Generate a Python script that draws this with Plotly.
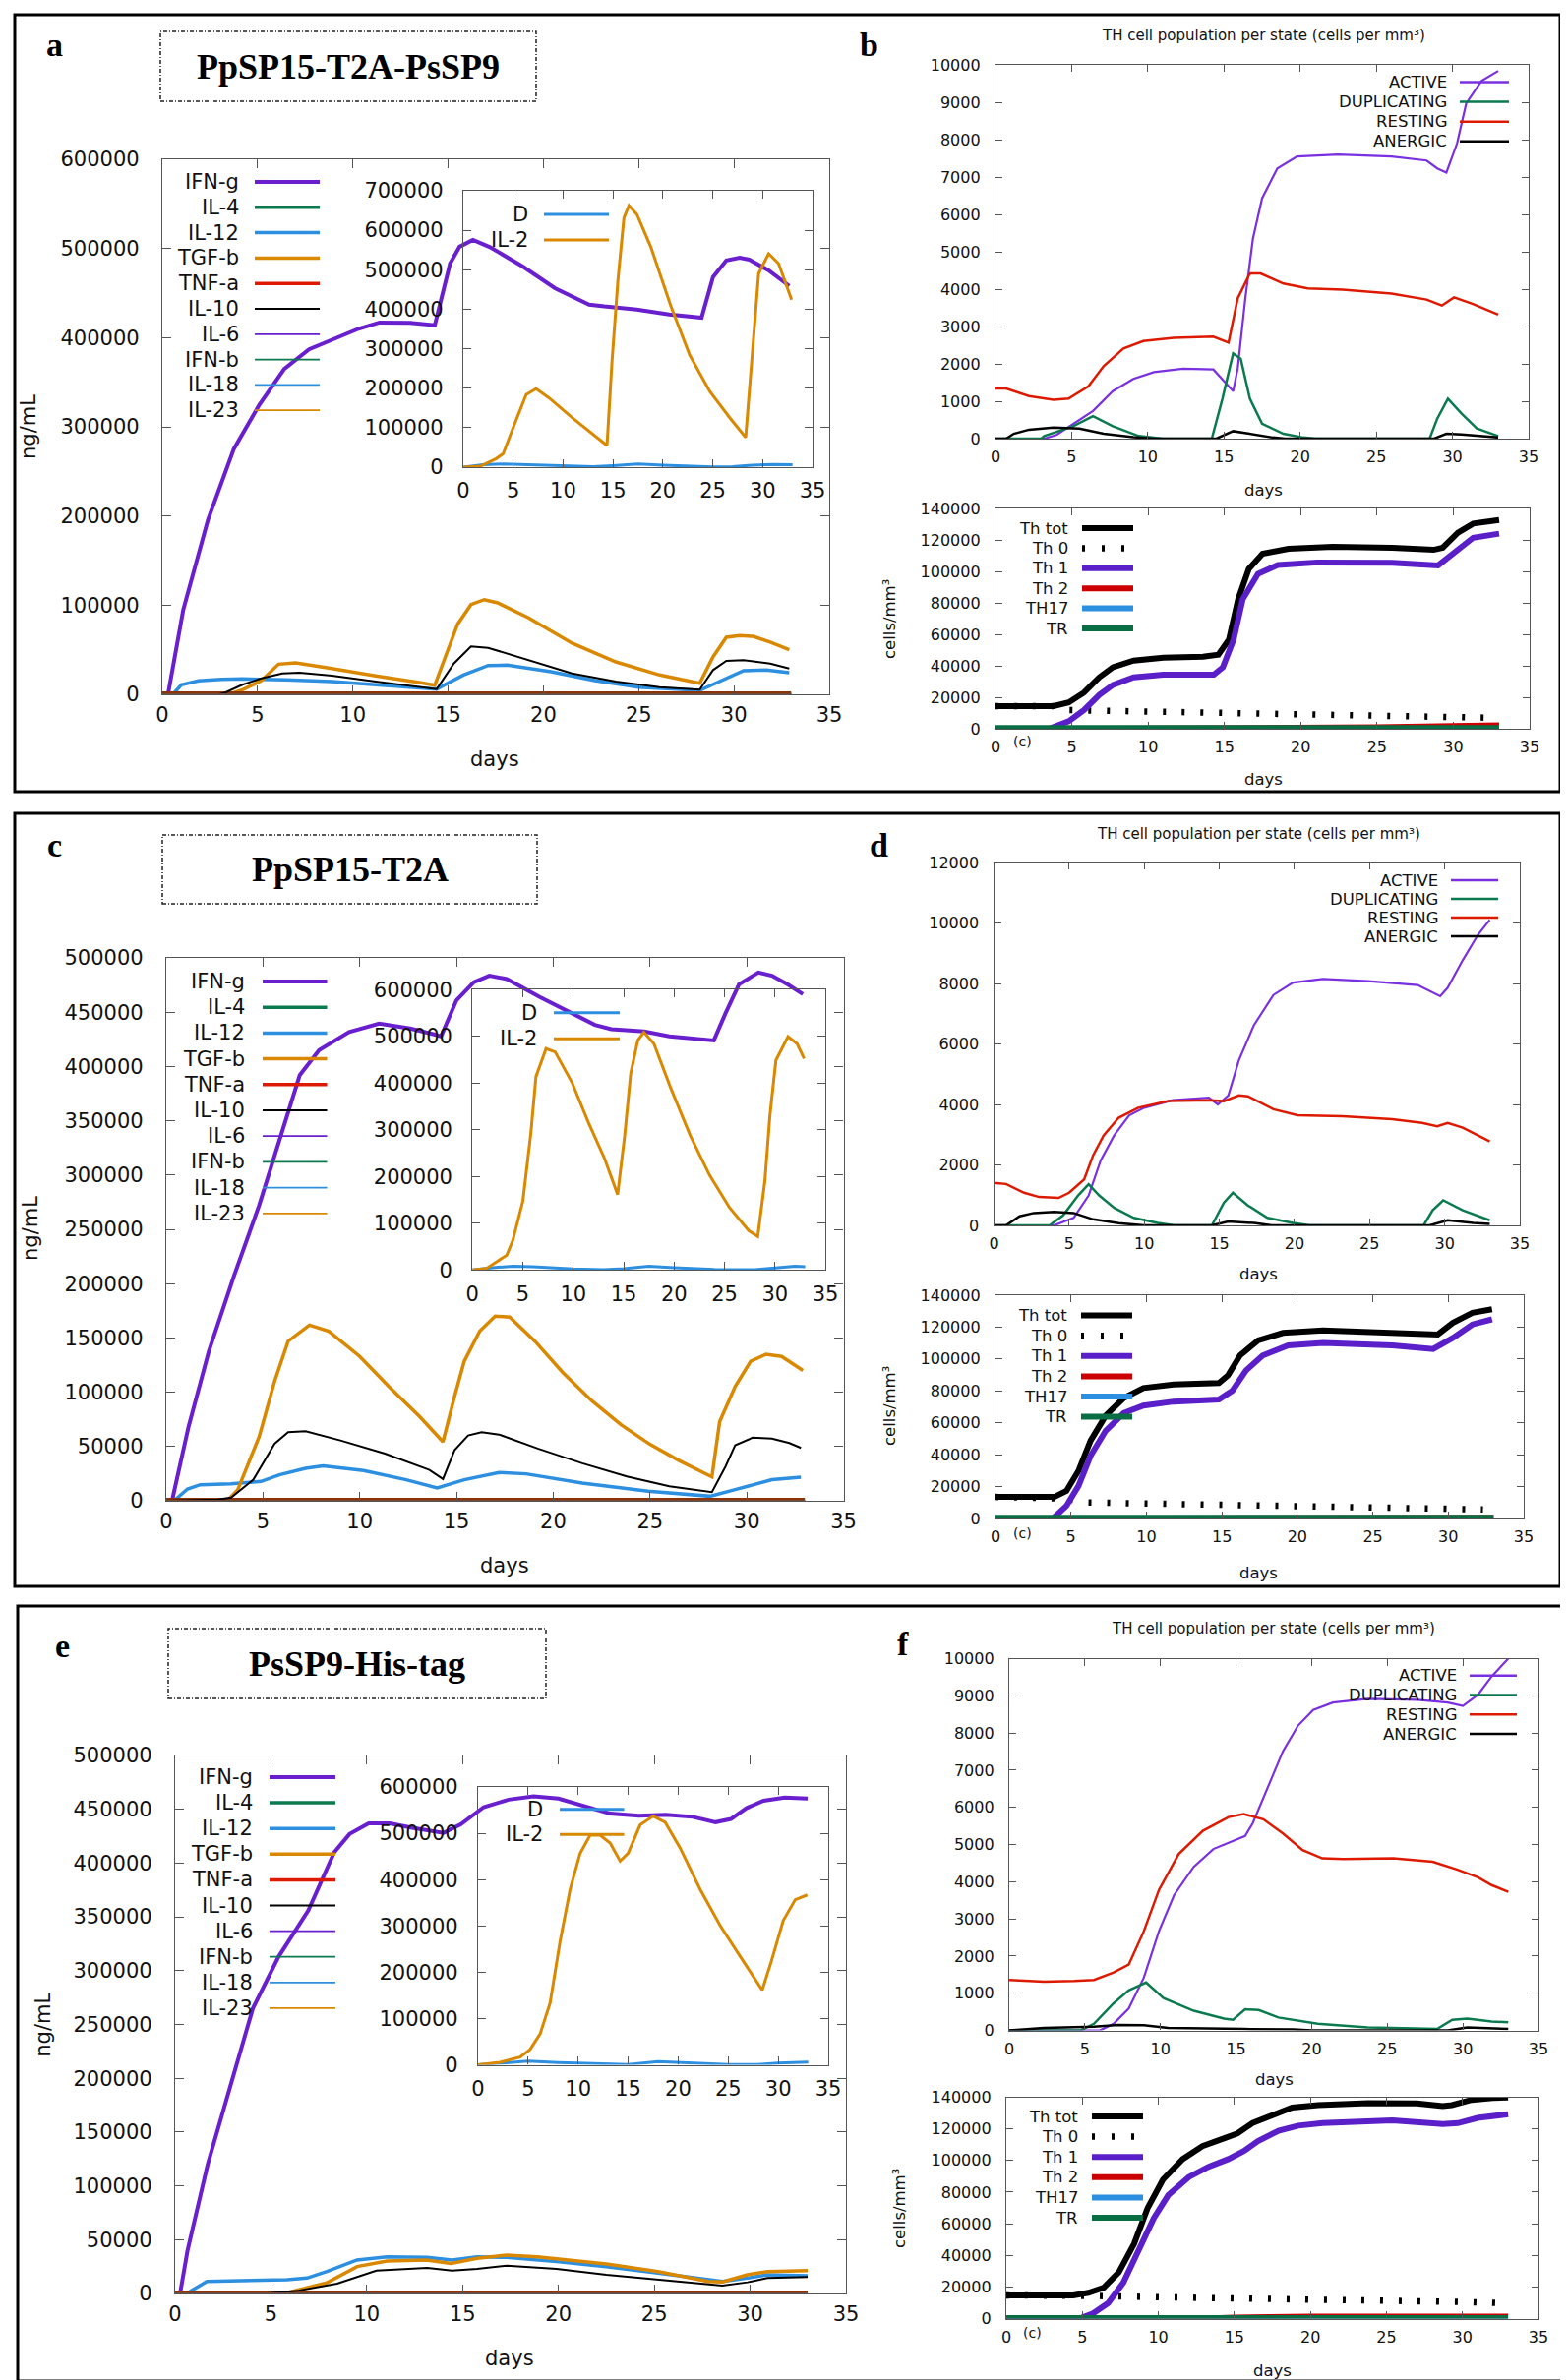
import plotly.graph_objects as go

# ============================ DATA ============================
days_span = [0, 33]
zero_level = [0, 0]

cytokine_names = ["IFN-g", "IL-4", "IL-12", "TGF-b", "TNF-a", "IL-10", "IL-6", "IFN-b", "IL-18", "IL-23"]
inset_names = ["D", "IL-2"]
state_names = ["ACTIVE", "DUPLICATING", "RESTING", "ANERGIC"]
th_names = ["Th tot", "Th 0", "Th 1", "Th 2", "TH17", "TR"]
panel_titles = ["PpSP15-T2A-PsSP9", "PpSP15-T2A", "PsSP9-His-tag"]
state_title = "TH cell population per state (cells per mm³)"

# ---- panel a (PpSP15-T2A-PsSP9) cytokines ----
a_ifng_x = [0.3, 1.1, 2.4, 3.75, 5.1, 6.4, 7.7, 9.0, 10.3, 11.4, 13.0, 14.3, 14.6, 15.1, 15.6, 16.3, 17.2, 18.9, 20.6, 22.4, 23.2, 24.9, 26.6, 28.3, 28.9, 29.6, 30.3, 30.8, 31.8, 32.9]
a_ifng_y = [0, 95000, 196000, 275000, 325000, 365000, 387000, 398000, 410000, 417000, 416500, 414000, 439000, 483000, 502000, 509600, 501500, 480000, 455500, 437000, 435000, 431600, 426000, 422400, 468000, 486700, 489700, 487500, 475700, 458000]
a_tgfb_x = [0, 3.5, 4.2, 5.2, 6.1, 7.0, 8.9, 11.2, 13.5, 14.3, 14.85, 15.5, 16.2, 16.9, 17.6, 19.2, 21.5, 23.8, 26.1, 28.2, 28.9, 29.6, 30.3, 31.0, 31.9, 32.9]
a_tgfb_y = [0, 0, 5000, 15400, 33800, 35300, 29000, 20600, 13200, 10300, 41900, 78700, 100700, 106200, 102600, 86000, 57400, 36400, 21700, 12500, 41900, 64000, 65800, 65000, 58500, 50000]
a_il10_x = [0, 3.0, 3.3, 4.2, 5.2, 6.3, 7.2, 8.9, 11.2, 14.4, 15.3, 16.2, 17.1, 19.2, 21.5, 23.8, 26.1, 28.2, 28.9, 29.6, 30.5, 31.9, 32.9]
a_il10_y = [0, 0, 2000, 10700, 18000, 23500, 24300, 21000, 14300, 5900, 34500, 53700, 52200, 38300, 23500, 14300, 8100, 5200, 27200, 37500, 38300, 34500, 29000]
a_il12_x = [0, 0.56, 1.0, 1.9, 3.1, 4.2, 6.5, 8.9, 11.2, 14.4, 15.8, 17.1, 18.1, 20.4, 22.7, 25.0, 28.2, 29.4, 30.5, 31.7, 32.9]
a_il12_y = [0, 0, 10700, 15100, 16900, 17300, 16200, 14300, 10700, 5900, 21700, 32300, 32800, 25400, 15400, 8100, 4400, 16200, 26500, 27200, 24300]
a_il2_x = [0, 1.7, 3.3, 4.0, 5.0, 6.3, 7.3, 8.6, 10.9, 12.9, 14.4, 14.9, 15.5, 16.1, 16.6, 17.4, 18.8, 20.8, 22.7, 24.7, 26.7, 28.3, 29.0, 29.6, 30.6, 31.6, 32.9]
a_il2_y = [0, 2500, 21600, 34000, 100400, 183600, 198500, 175100, 125300, 83900, 54800, 266500, 474000, 631900, 662600, 640200, 557200, 407800, 283300, 191800, 125300, 75500, 308200, 490700, 540500, 515600, 424200]
a_d_x = [0, 2, 4, 7, 10, 13, 15, 17.5, 20, 23, 25, 27, 29, 31, 33]
a_d_y = [0, 6000, 8000, 6000, 3000, 1500, 4000, 8000, 5000, 2000, 500, 1000, 5000, 7000, 6000]

# ---- panel b states ----
b_active_x = [0, 3.2, 4.0, 5.1, 6.4, 7.7, 9.05, 10.4, 12.3, 14.3, 15.6, 15.9, 16.4, 16.9, 17.5, 18.5, 19.8, 22.5, 26.0, 28.3, 29.0, 29.6, 30.3, 30.9, 31.9, 33.0]
b_active_y = [0, 0, 100, 400, 740, 1270, 1600, 1780, 1870, 1850, 1270, 1870, 3750, 5350, 6430, 7230, 7550, 7600, 7550, 7440, 7230, 7120, 7900, 8970, 9570, 9840]
b_dup_x = [0, 3.0, 3.2, 5.1, 6.4, 7.7, 9.4, 10.4, 11.0, 14.2, 14.9, 15.6, 16.1, 16.7, 17.5, 18.9, 20.2, 21.0, 28.5, 29.0, 29.7, 30.6, 31.6, 33.0]
b_dup_y = [0, 0, 70, 330, 600, 330, 70, 30, 0, 0, 1070, 2280, 2140, 1070, 400, 130, 30, 0, 0, 535, 1070, 670, 270, 70]
b_rest_x = [0, 0.7, 2.2, 3.8, 4.8, 6.1, 7.1, 8.4, 9.7, 11.7, 14.3, 15.3, 15.9, 16.7, 17.4, 18.9, 20.5, 22.8, 26.0, 28.3, 29.3, 30.1, 31.3, 33.0]
b_rest_y = [1340, 1340, 1140, 1040, 1070, 1400, 1940, 2410, 2610, 2700, 2730, 2570, 3750, 4420, 4420, 4150, 4020, 3990, 3880, 3720, 3560, 3780, 3610, 3320]
b_anerg_x = [0, 0.7, 1.2, 2.2, 3.8, 5.5, 7.1, 9.05, 10.4, 14.5, 15.6, 16.6, 18.2, 19, 28.8, 29.6, 30.6, 33.0]
b_anerg_y = [0, 0, 130, 240, 295, 270, 130, 40, 0, 0, 200, 130, 30, 0, 0, 130, 110, 30]
# ---- panel b Th populations ----
b_thtot_x = [0, 3.8, 4.8, 5.8, 6.8, 7.7, 9.05, 11.0, 13.6, 14.6, 15.3, 15.9, 16.6, 17.5, 19.2, 22.1, 26.0, 28.7, 29.3, 30.3, 31.3, 33.0]
b_thtot_y = [14400, 14400, 16700, 23000, 32700, 39100, 43300, 45200, 45800, 47100, 56700, 82300, 101600, 111200, 114400, 115700, 115000, 113700, 115000, 124600, 130400, 132600]
b_th0_x = [0, 3.8, 4.5, 15, 25, 32.5]
b_th0_y = [14400, 14400, 11900, 10200, 8600, 7000]
b_th1_x = [0, 3.5, 4.8, 5.8, 6.8, 7.7, 9.05, 11.0, 14.3, 14.9, 15.6, 16.2, 17.2, 18.5, 21.1, 26.0, 29.0, 30.3, 31.3, 33.0]
b_th1_y = [0, 0, 4800, 11900, 21500, 27900, 32700, 34300, 34300, 39100, 56700, 82300, 98400, 104100, 105700, 105400, 103800, 114400, 121400, 124000]
b_th2_x = [0, 20, 25, 30, 33]
b_th2_y = [0, 800, 1200, 2000, 2500]
b_tr_y = [800, 800]

# ---- panel c (PpSP15-T2A) cytokines ----
c_ifng_x = [0.3, 1.15, 2.2, 3.5, 4.8, 6.1, 6.9, 7.9, 9.45, 11.0, 12.6, 13.9, 14.2, 15.0, 15.9, 16.7, 17.6, 19.3, 21.0, 22.15, 23.0, 24.7, 26.0, 28.3, 28.9, 29.6, 30.6, 31.3, 32.1, 32.9]
c_ifng_y = [0, 68000, 137700, 207000, 272000, 346000, 392000, 415000, 431700, 439500, 435000, 429300, 427700, 461000, 477600, 483600, 480600, 464000, 448900, 438300, 434300, 432200, 427700, 424000, 448900, 475700, 486600, 483600, 475700, 466600]
c_tgfb_x = [0, 3.2, 3.7, 4.8, 5.6, 6.3, 7.4, 8.4, 10.0, 11.5, 13.1, 14.3, 14.9, 15.4, 16.2, 17.0, 17.75, 19.05, 20.5, 22.0, 23.5, 25.0, 26.5, 28.2, 28.6, 29.4, 30.2, 31.0, 31.8, 32.9]
c_tgfb_y = [0, 1000, 10300, 59000, 110000, 147000, 161800, 156200, 133000, 105300, 77500, 54300, 96000, 128500, 156200, 170100, 169200, 147000, 118000, 92000, 70000, 52000, 37000, 22000, 72900, 105300, 128500, 135000, 133000, 120000]
c_il10_x = [0, 2.67, 3.35, 4.5, 5.6, 6.3, 7.2, 9.0, 11.3, 13.6, 14.3, 14.9, 15.6, 16.3, 17.2, 19.2, 21.5, 23.8, 26.0, 28.2, 28.9, 29.4, 30.3, 31.3, 32.2, 32.8]
c_il10_y = [0, 1200, 3000, 19400, 52600, 63200, 64100, 55600, 43500, 28400, 20000, 46600, 60200, 63200, 61000, 48100, 34500, 22400, 13300, 7900, 31500, 51100, 58100, 57200, 53200, 48700]
c_il12_x = [0, 0.4, 1.1, 1.76, 3.35, 4.9, 5.85, 7.2, 8.1, 10.2, 12.4, 14.0, 15.4, 17.2, 18.6, 21.5, 24.9, 28.1, 29.4, 31.3, 32.8]
c_il12_y = [0, 0, 10900, 14800, 15700, 17800, 23900, 29900, 32100, 27800, 19400, 11800, 19400, 26000, 24800, 16300, 8800, 4200, 10300, 19400, 21800]
c_il2_x = [0, 1.4, 2.4, 3.4, 4.0, 5.0, 5.8, 6.3, 7.3, 8.2, 9.9, 11.5, 13.1, 14.4, 15.1, 15.7, 16.4, 17.0, 18.0, 19.6, 21.6, 23.5, 25.5, 27.4, 28.3, 29.0, 29.5, 30.1, 31.3, 32.2, 32.9]
c_il2_y = [0, 3500, 17500, 31600, 63100, 147400, 294700, 414000, 473700, 466700, 400000, 315800, 238600, 161400, 287700, 421000, 491200, 508800, 484200, 393000, 287700, 203500, 133300, 84200, 71600, 189500, 329900, 449100, 499600, 484200, 452600]
c_d_x = [0, 2, 4, 6, 10, 13, 15, 17.5, 20, 24, 28, 30, 32, 33]
c_d_y = [0, 5000, 8000, 7000, 2000, 500, 3000, 8000, 5000, 1000, 500, 4000, 8000, 7000]

# ---- panel d states ----
d_active_x = [0, 4.0, 5.3, 6.3, 7.1, 8.0, 9.0, 10.0, 11.9, 14.3, 14.9, 15.6, 16.3, 17.3, 18.6, 19.9, 21.9, 24.9, 28.2, 28.9, 29.7, 30.2, 31.2, 32.2, 33.0]
d_active_y = [0, 0, 250, 990, 2150, 2980, 3640, 3890, 4140, 4220, 4000, 4300, 5460, 6620, 7620, 8030, 8150, 8080, 7950, 7780, 7580, 7860, 8770, 9600, 10100]
d_dup_x = [0, 3.7, 4.6, 5.6, 6.3, 7.0, 8.0, 9.3, 10.9, 12, 14.5, 15.3, 15.9, 16.9, 18.2, 19.9, 21, 28.6, 29.2, 29.9, 31.2, 33.0]
d_dup_y = [0, 0, 330, 990, 1360, 990, 580, 250, 80, 0, 0, 750, 1080, 660, 250, 80, 0, 0, 500, 830, 500, 170]
d_rest_x = [0, 0.8, 2.0, 3.0, 4.3, 5.0, 6.0, 6.6, 7.3, 8.3, 9.6, 11.6, 14.3, 15.3, 16.3, 16.9, 18.6, 20.2, 23.2, 26.5, 28.5, 29.5, 30.2, 31.2, 32.2, 33.0]
d_rest_y = [1410, 1370, 1080, 940, 910, 1080, 1520, 2320, 2980, 3560, 3890, 4110, 4140, 4110, 4300, 4270, 3840, 3640, 3610, 3510, 3390, 3280, 3390, 3230, 2980, 2780]
d_anerg_x = [0, 0.8, 1.7, 2.65, 4.0, 5.3, 6.6, 8.3, 10, 14.5, 15.6, 17.3, 18.5, 29, 30.2, 31.9, 33]
d_anerg_y = [0, 0, 300, 410, 450, 410, 200, 70, 0, 0, 130, 80, 0, 0, 170, 80, 50]
# ---- panel d Th populations ----
d_thtot_x = [0, 3.9, 4.7, 5.5, 6.3, 7.3, 8.5, 9.8, 11.8, 14.8, 15.4, 16.2, 17.4, 19.05, 21.7, 26.3, 28.6, 29.3, 30.3, 31.6, 32.9]
d_thtot_y = [13500, 13500, 17300, 29900, 48800, 64500, 75500, 81800, 84000, 84900, 89700, 102200, 111700, 116400, 118000, 116400, 114800, 115400, 122700, 129000, 131200]
d_th0_x = [0, 3.9, 4.7, 5.8, 15, 25, 32.3]
d_th0_y = [13500, 13500, 12500, 10100, 8800, 7300, 5700]
d_th1_x = [0, 3.8, 4.7, 5.5, 6.3, 7.3, 8.5, 9.8, 11.8, 14.8, 15.7, 16.6, 17.7, 19.4, 21.7, 26.3, 29.0, 30.3, 31.6, 32.9]
d_th1_y = [0, 0, 7900, 20400, 39300, 55000, 66100, 70800, 73300, 74600, 80200, 92800, 102200, 108500, 110100, 108500, 106300, 113200, 121700, 124900]
d_th2_x = [0, 20, 33]
d_th2_y = [0, 500, 800]
d_tr_y = [800, 800]

# ---- panel e (PsSP9-His-tag) cytokines ----
e_ifng_x = [0.26, 0.65, 1.7, 2.75, 4.06, 5.4, 6.95, 8.3, 9.1, 10.1, 11.2, 12.3, 14.0, 14.9, 16.1, 17.4, 18.7, 20.0, 21.2, 22.7, 24.2, 25.6, 27.0, 28.2, 29.0, 29.8, 30.7, 31.8, 33.0]
e_ifng_y = [0, 40000, 120000, 185000, 265000, 313000, 356000, 410000, 427000, 437000, 437000, 433000, 428000, 436000, 452000, 459000, 462000, 460000, 454000, 446000, 444000, 445000, 443000, 438000, 441000, 451000, 458000, 461000, 460000]
e_tgfb_x = [0, 5.0, 5.8, 7.9, 9.5, 11.05, 13.1, 14.4, 15.75, 17.3, 18.9, 22.5, 25.2, 27.8, 28.55, 29.85, 30.9, 33.0]
e_tgfb_y = [0, 0, 600, 9800, 25000, 30200, 31100, 28000, 32600, 35600, 34100, 27400, 20400, 11300, 10700, 17400, 20400, 21300]
e_il12_x = [0, 0.6, 1.66, 3.75, 5.84, 6.88, 7.92, 9.49, 11.06, 13.15, 14.45, 15.76, 17.3, 19.9, 22.5, 25.2, 27.8, 28.55, 29.86, 30.9, 33.0]
e_il12_y = [0, 0, 11300, 12200, 12800, 14300, 20400, 31100, 34100, 33500, 31100, 34100, 33500, 29600, 25000, 18900, 12800, 11300, 14300, 17400, 16400]
e_il10_x = [0, 4.8, 6.36, 8.45, 10.5, 13.15, 14.45, 15.76, 17.3, 19.9, 22.5, 25.2, 27.8, 28.55, 29.86, 30.9, 33.0]
e_il10_y = [0, 0, 2400, 9100, 21300, 23800, 21300, 22800, 25900, 22800, 17400, 12800, 8200, 7300, 10400, 14300, 15200]
e_il2_x = [0, 2.2, 4.2, 5.2, 6.2, 7.2, 8.2, 9.2, 10.2, 11.2, 12.2, 13.2, 14.2, 15.0, 16.2, 17.5, 18.7, 20.2, 22.2, 24.2, 26.2, 27.7, 28.4, 29.3, 30.5, 31.7, 32.9]
e_il2_y = [0, 5600, 16700, 33300, 66800, 133700, 267300, 378800, 456800, 495800, 495800, 479100, 440000, 456800, 518100, 537100, 523700, 468000, 378800, 300700, 233900, 183800, 161500, 222900, 311700, 356700, 367000]
e_d_x = [0, 3, 5, 8, 12, 15, 18, 22, 25, 28, 30, 33]
e_d_y = [0, 5000, 8000, 5000, 2000, 1000, 7000, 4000, 1000, 500, 4000, 6000]

# ---- panel f states ----
f_active_x = [0, 6.0, 6.9, 7.9, 8.9, 9.9, 10.9, 12.2, 13.5, 14.8, 15.6, 16.1, 17.1, 18.1, 19.1, 20.1, 21.4, 23.7, 27.0, 29.0, 30.0, 31.0, 31.9, 33.0]
f_active_y = [0, 0, 180, 590, 1420, 2670, 3640, 4400, 4880, 5090, 5230, 5570, 6540, 7510, 8200, 8620, 8820, 8920, 8890, 8820, 8730, 9030, 9520, 10000]
f_dup_x = [0, 4.7, 5.6, 6.9, 7.9, 9.05, 10.2, 12.2, 14.2, 14.8, 15.6, 16.5, 17.8, 20.4, 23.7, 28.3, 29.3, 30.3, 31.9, 33.0]
f_dup_y = [0, 0, 180, 730, 1080, 1290, 870, 530, 320, 290, 570, 550, 350, 180, 80, 40, 290, 320, 240, 220]
f_rest_x = [0, 2.3, 4.3, 5.6, 6.9, 7.9, 8.9, 9.9, 11.2, 12.8, 14.5, 15.5, 16.8, 18.1, 19.4, 20.7, 22.1, 25.4, 28.0, 29.6, 31.0, 31.9, 33.0]
f_rest_y = [1360, 1310, 1330, 1360, 1560, 1770, 2670, 3780, 4740, 5370, 5740, 5820, 5680, 5300, 4850, 4630, 4610, 4630, 4540, 4330, 4120, 3910, 3730]
f_anerg_x = [0, 2.3, 5.6, 7.2, 8.9, 10.5, 15.5, 18.8, 20, 29, 30.3, 33]
f_anerg_y = [0, 70, 100, 150, 140, 70, 40, 30, 0, 0, 80, 40]
# ---- panel f Th populations ----
f_thtot_x = [0, 4.4, 5.4, 6.4, 7.4, 8.4, 9.3, 10.3, 11.6, 12.9, 14.3, 15.2, 16.2, 17.5, 18.8, 20.5, 23.8, 27.0, 28.7, 29.3, 30.6, 32.0, 33.0]
f_thtot_y = [14700, 14700, 16300, 19500, 29300, 47200, 70000, 87900, 100900, 109100, 114000, 117200, 123700, 128600, 133500, 135100, 136400, 136100, 134500, 135100, 138400, 139600, 139900]
f_th0_x = [0, 5.0, 6.0, 10, 15, 20, 25, 30, 32.5]
f_th0_y = [14700, 14700, 14300, 13500, 13000, 12000, 11500, 10500, 9800]
f_th1_x = [0, 4.8, 5.7, 6.7, 7.7, 8.7, 9.7, 10.65, 12.0, 13.3, 14.6, 15.6, 16.55, 17.9, 19.2, 20.8, 25.4, 28.7, 29.7, 31.0, 33.0]
f_th1_y = [0, 0, 3300, 9800, 22800, 44000, 63500, 78100, 89500, 96100, 100900, 105800, 112300, 118900, 122100, 123700, 125400, 123100, 123700, 127000, 129300]
f_th2_x = [0, 12, 15, 20, 33]
f_th2_y = [0, 0, 1000, 1500, 1500]
f_tr_y = [600, 600]

# ============================ STYLE ============================
W, H = 1594, 2420
PURPLE = "#6a1fcf"
PURPLE_L = "#7a2fe0"
GREEN = "#0b7a4e"
BLUE = "#2c8fe0"
ORANGE = "#d98800"
RED = "#dd1a00"
BROWN_RED = "#8e3208"
BLACK = "#000000"
FRAME = "#555555"
TICKFONT = "DejaVu Sans"


def fx(p):
    return p / W


def fy(p):
    return 1 - p / H


fig = go.Figure()

# subplot frames: idx, left, right, top, bottom, ymax, ydtick, font size, tick length, x standoff, y standoff
frames = [
    (1, 157, 835, 154, 698, 600000, 100000, 21, 9, 2, 18),
    (2, 463, 818, 186, 467, 700000, 100000, 21, 8, 5, 15),
    (3, 1004, 1546, 58, 438, 10000, 1000, 16, 7, 4, 11),
    (4, 1004, 1547, 509, 733, 140000, 20000, 16, 7, 4, 11),
    (5, 161, 849.5, 966, 1518, 500000, 50000, 21, 9, 2, 18),
    (6, 472.3, 831, 998.3, 1283.3, 600000, 100000, 21, 8, 5, 15),
    (7, 1002.5, 1537, 869, 1238, 12000, 2000, 16, 7, 4, 11),
    (8, 1004, 1541, 1309, 1536, 140000, 20000, 16, 7, 4, 11),
    (9, 170, 852, 1777, 2324, 500000, 50000, 21, 9, 2, 18),
    (10, 478, 834, 1809, 2091.6, 600000, 100000, 21, 8, 5, 15),
    (11, 1018, 1556, 1678.5, 2056.6, 10000, 1000, 16, 7, 4, 11),
    (12, 1015, 1556, 2124.6, 2349.5, 140000, 20000, 16, 7, 4, 11),
]

layout_axes = {}
for idx, l, r, t, b, ymax, ydt, fs, tl, xs, ys in frames:
    sfx = "" if idx == 1 else str(idx)
    common = dict(showline=True, mirror="allticks", linecolor=FRAME, linewidth=1.3,
                  ticks="inside", ticklen=tl, tickwidth=1.2, tickcolor=FRAME,
                  showgrid=False, zeroline=False, tickformat="d", automargin=False,
                  tickfont=dict(family=TICKFONT, size=fs, color="#111"))
    layout_axes["xaxis" + sfx] = dict(common, domain=[fx(l), fx(r)], anchor="y" + sfx,
                                      range=[0, 35], dtick=5, tick0=0, ticklabelstandoff=xs)
    layout_axes["yaxis" + sfx] = dict(common, domain=[fy(b), fy(t)], anchor="x" + sfx,
                                      range=[0, ymax], dtick=ydt, tick0=0, ticklabelstandoff=ys)


def add(ax, x, y, color, width, dash=None):
    sfx = "" if ax == 1 else str(ax)
    fig.add_trace(go.Scatter(x=x, y=y, mode="lines",
                             line=dict(color=color, width=width, dash=dash),
                             xaxis="x" + sfx, yaxis="y" + sfx,
                             showlegend=False, hoverinfo="skip"))


def cytokines(ax, ifx, ify, il12x, il12y, tgx, tgy, i10x, i10y):
    add(ax, ifx, ify, PURPLE, 4)
    add(ax, days_span, zero_level, GREEN, 3.5)
    add(ax, il12x, il12y, BLUE, 3.5)
    add(ax, tgx, tgy, ORANGE, 3.5)
    add(ax, days_span, zero_level, BROWN_RED, 6)
    add(ax, i10x, i10y, BLACK, 2)
    add(ax, days_span, zero_level, PURPLE, 1.5)
    add(ax, days_span, zero_level, GREEN, 1.5)
    add(ax, days_span, zero_level, BLUE, 1.5)
    add(ax, days_span, zero_level, "#8e3a08", 1.5)


def inset(ax, dx, dy, il2x, il2y):
    add(ax, dx, dy, BLUE, 3)
    add(ax, il2x, il2y, ORANGE, 3)


def states(ax, acx, acy, dux, duy, rex, rey, anx, any_):
    add(ax, acx, acy, PURPLE_L, 2.2)
    add(ax, dux, duy, GREEN, 2.5)
    add(ax, rex, rey, RED, 2.5)
    add(ax, anx, any_, BLACK, 2.5)


def thpop(ax, ttx, tty, t0x, t0y, t1x, t1y, t2x, t2y, try_):
    add(ax, ttx, tty, BLACK, 6)
    add(ax, t0x, t0y, BLACK, 6.5, "3px,16px")
    add(ax, t1x, t1y, "#5a1fc8", 6)
    add(ax, t2x, t2y, "#cc0000", 5)
    add(ax, days_span, zero_level, BLUE, 5)
    add(ax, days_span, try_, "#0a6e44", 5)


cytokines(1, a_ifng_x, a_ifng_y, a_il12_x, a_il12_y, a_tgfb_x, a_tgfb_y, a_il10_x, a_il10_y)
inset(2, a_d_x, a_d_y, a_il2_x, a_il2_y)
states(3, b_active_x, b_active_y, b_dup_x, b_dup_y, b_rest_x, b_rest_y, b_anerg_x, b_anerg_y)
thpop(4, b_thtot_x, b_thtot_y, b_th0_x, b_th0_y, b_th1_x, b_th1_y, b_th2_x, b_th2_y, b_tr_y)
cytokines(5, c_ifng_x, c_ifng_y, c_il12_x, c_il12_y, c_tgfb_x, c_tgfb_y, c_il10_x, c_il10_y)
inset(6, c_d_x, c_d_y, c_il2_x, c_il2_y)
states(7, d_active_x, d_active_y, d_dup_x, d_dup_y, d_rest_x, d_rest_y, d_anerg_x, d_anerg_y)
thpop(8, d_thtot_x, d_thtot_y, d_th0_x, d_th0_y, d_th1_x, d_th1_y, d_th2_x, d_th2_y, d_tr_y)
cytokines(9, e_ifng_x, e_ifng_y, e_il12_x, e_il12_y, e_tgfb_x, e_tgfb_y, e_il10_x, e_il10_y)
inset(10, e_d_x, e_d_y, e_il2_x, e_il2_y)
states(11, f_active_x, f_active_y, f_dup_x, f_dup_y, f_rest_x, f_rest_y, f_anerg_x, f_anerg_y)
thpop(12, f_thtot_x, f_thtot_y, f_th0_x, f_th0_y, f_th1_x, f_th1_y, f_th2_x, f_th2_y, f_tr_y)

shapes = []
annotations = []


def text(x, y, s, size, family=TICKFONT, xanchor="center", angle=0, color="#111"):
    annotations.append(dict(x=fx(x), y=fy(y), xref="paper", yref="paper", text=s,
                            showarrow=False, xanchor=xanchor, yanchor="middle",
                            textangle=angle, font=dict(family=family, size=size, color=color)))


def hline(x0, x1, y, color, width, dash="solid"):
    shapes.append(dict(type="line", xref="paper", yref="paper", x0=fx(x0), x1=fx(x1),
                       y0=fy(y), y1=fy(y), line=dict(color=color, width=width, dash=dash)))


def legend(names, styles, tx, lx0, lx1, y0, dy, size):
    for i, (n, st) in enumerate(zip(names, styles)):
        y = y0 + i * dy
        text(tx, y, n, size, xanchor="right")
        hline(lx0, lx1, y, *st)


cyto_styles = [(PURPLE, 4), (GREEN, 3.5), (BLUE, 3.5), (ORANGE, 3.5), (RED, 3.5),
               (BLACK, 1.8), (PURPLE, 1.8), (GREEN, 1.8), (BLUE, 1.8), (ORANGE, 1.8)]
inset_styles = [(BLUE, 3), (ORANGE, 3)]
state_styles = [(PURPLE_L, 2.5), (GREEN, 2.5), (RED, 2.5), (BLACK, 2.5)]
th_styles = [(BLACK, 6), (BLACK, 6.5, "3px,17px"), ("#5a1fc8", 6), ("#cc0000", 6), (BLUE, 6), ("#0a6e44", 6)]

legend(cytokine_names, cyto_styles, 237, 251, 317, 177, 25.8, 21)
legend(cytokine_names, cyto_styles, 243, 259, 324.5, 990, 26.2, 21)
legend(cytokine_names, cyto_styles, 251, 266, 333, 1799, 26.1, 21)
legend(inset_names, inset_styles, 531, 545, 611, 210, 26, 21)
legend(inset_names, inset_styles, 540, 555, 622, 1021.7, 26.6, 21)
legend(inset_names, inset_styles, 546, 561, 626.5, 1831.7, 25.5, 21)
legend(state_names, state_styles, 1465, 1476, 1526, 75.5, 20.1, 16.5)
legend(state_names, state_styles, 1456, 1467, 1515, 887, 19, 16.5)
legend(state_names, state_styles, 1475, 1486, 1534, 1695.7, 19.8, 16.5)
legend(th_names, th_styles, 1080, 1092, 1144, 529, 20.4, 16.5)
legend(th_names, th_styles, 1078.5, 1091, 1143, 1329.6, 20.6, 16.5)
legend(th_names, th_styles, 1089.6, 1102, 1154, 2144, 20.6, 16.5)

# axis titles
for (x, y) in [(495, 764), (505, 1584), (510, 2390)]:
    text(x, y, "days", 21)
for (x, y) in [(1276, 490), (1276, 784), (1271, 1287), (1271, 1591), (1287, 2106), (1285, 2402)]:
    text(x, y, "days", 16.5)
for (x, y) in [(21, 426), (23, 1241), (35.7, 2051)]:
    text(x, y, "ng/mL", 21, angle=-90)
for (x, y) in [(896, 622), (896, 1422), (906, 2238)]:
    text(x, y, "cells/mm³", 16.5, angle=-90)
for (x, y) in [(1031, 746), (1031, 1551), (1041, 2364)]:
    text(x, y, "(c)", 14)
for (x, y) in [(1276, 28), (1271, 840), (1286, 1648)]:
    text(x, y, state_title, 15)

# panel letters
for (x, y, s) in [(47, 38, "a"), (875, 38, "b"), (47, 851, "c"), (885, 851, "d"), (55, 1665, "e"), (910, 1663, "f")]:
    text(x, y, "<b>%s</b>" % s, 34, family="Liberation Serif", color="#000")

# title boxes
for (x0, x1, y0, y1), title in zip([(155, 537, 24, 95), (157, 538, 841, 911), (163, 547, 1648, 1719)], panel_titles):
    shapes.append(dict(type="rect", xref="paper", yref="paper", x0=fx(x0), x1=fx(x1), y0=fy(y1), y1=fy(y0),
                       line=dict(color="#222", width=1.5, dash="4px,2px,1px,2px")))
    text((x0 + x1) / 2, (y0 + y1) / 2, "<b>%s</b>" % title, 36, family="Liberation Serif", color="#000")

# outer panel boxes
for (x0, x1, y0, y1) in [(7, 1578, 7, 797), (7, 1578, 819, 1605), (10, 1588, 1625, 2413)]:
    shapes.append(dict(type="rect", xref="paper", yref="paper", x0=fx(x0), x1=fx(x1), y0=fy(y1), y1=fy(y0),
                       line=dict(color="#000", width=3)))

fig.update_layout(width=W, height=H, margin=dict(l=0, r=0, t=0, b=0, autoexpand=False),
                  paper_bgcolor="white", plot_bgcolor="rgba(0,0,0,0)",
                  showlegend=False, shapes=shapes, annotations=annotations, **layout_axes)

fig.write_html("out.html")
